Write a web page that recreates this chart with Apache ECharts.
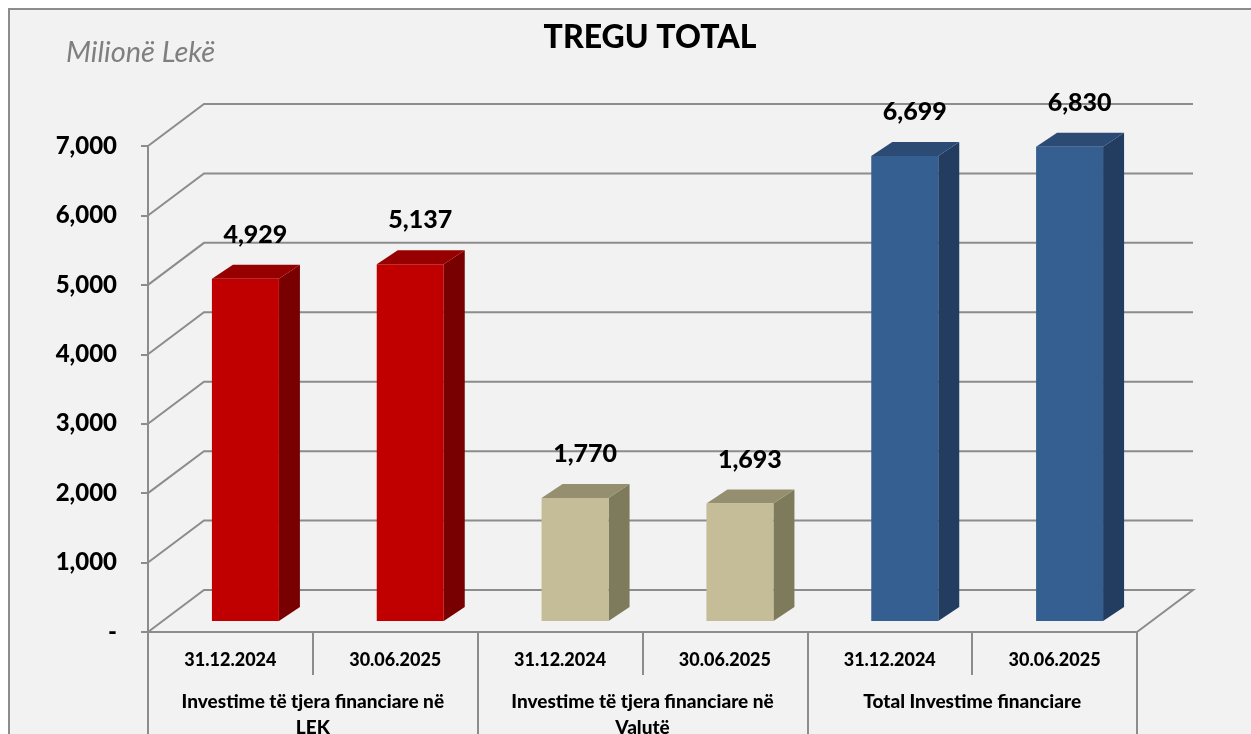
<!DOCTYPE html>
<html>
<head>
<meta charset="utf-8">
<script src="https://cdn.jsdelivr.net/npm/echarts@6/dist/echarts.min.js"></script>
<style>
  html, body { margin: 0; padding: 0; background: #fff; }
  #chart { width: 1251px; height: 734px; }
</style>
</head>
<body>
<div id="chart"></div>
<script>
const dates = ["31.12.2024", "30.06.2025", "31.12.2024", "30.06.2025", "31.12.2024", "30.06.2025"];
const groups = ["Investime të tjera financiare në\nLEK", "Investime të tjera financiare në\nValutë", "Total Investime financiare"];
const values = [4929, 5137, 1770, 1693, 6699, 6830];
const yTicks = [0, 1000, 2000, 3000, 4000, 5000, 6000, 7000];

// front / top / side colour of each group
const barColors = [
  { front: "#C00000", top: "#960000", side: "#780000" },
  { front: "#C4BD97", top: "#958F6F", side: "#7E7A5C" },
  { front: "#365F91", top: "#2B4B74", side: "#223D5F" }
];

const FONT = "Lato, 'Open Sans', sans-serif";
const WALL_DX = 56, WALL_DY = -42;
const gridColor = "#8c8c8c";

function fmt(v) {
  if (v === 0) return "-";
  return v.toLocaleString("en-US");
}

let chart = echarts.init(document.getElementById("chart"));

function renderWall(params, api) {
  let v = api.value(1);
  let p = api.coord([0, v]);
  let cs = params.coordSys;
  let xl = cs.x, xr = cs.x + cs.width, y = p[1];
  let pts = [[xl, y], [xl + WALL_DX, y + WALL_DY], [xr + WALL_DX, y + WALL_DY]];
  if (v === 0) pts.push([xr, y]);
  return {
    type: "polyline",
    shape: { points: pts },
    style: { stroke: gridColor, lineWidth: 2, fill: null }
  };
}

function renderBar(params, api) {
  let idx = api.value(0), v = api.value(1);
  let base = api.coord([idx, 0]);
  let top = api.coord([idx, v]);
  let cx = base[0] + 15, w = 67;
  let x0 = cx - w / 2, x1 = cx + w / 2;
  let yb = base[1] - 11, yt = top[1] - 11;
  let dx = 21, dy = -14;
  let c = barColors[Math.floor(idx / 2)];
  return {
    type: "group",
    children: [
      { type: "polygon", shape: { points: [[x1, yb], [x1 + dx, yb + dy], [x1 + dx, yt + dy], [x1, yt]] }, style: { fill: c.side } },
      { type: "polygon", shape: { points: [[x0, yt], [x1, yt], [x1 + dx, yt + dy], [x0 + dx, yt + dy]] }, style: { fill: c.top } },
      { type: "rect", shape: { x: x0, y: yt, width: w, height: yb - yt }, style: { fill: c.front } },
      {
        type: "text", x: cx + 10, y: yt - 44,
        style: { text: fmt(v), fill: "#000", font: "900 25px " + FONT, align: "center", verticalAlign: "middle" }
      }
    ]
  };
}

let option = {
  backgroundColor: "#fff",
  animation: false,
  graphic: [
    {
      type: "rect", z: -100,
      shape: { x: 9, y: 9, width: 1400, height: 900 },
      style: { fill: "#F2F2F2", stroke: "#8c8c8c", lineWidth: 2 }
    },
    {
      type: "text", x: 650, y: 38,
      style: { text: "TREGU TOTAL", fill: "#000", font: "900 32px " + FONT, align: "center", verticalAlign: "middle" }
    },
    {
      type: "text", left: 66, top: 38,
      style: { text: "Milionë Lekë", fill: "#7f7f7f", font: "italic 29px " + FONT }
    }
  ],
  grid: { left: 148, right: 114, top: 146, bottom: 102, containLabel: false, outerBoundsMode: "none" },
  xAxis: [
    {
      type: "category",
      position: "bottom",
      data: dates,
      axisLine: { show: true, lineStyle: { color: gridColor, width: 2 } },
      axisTick: { show: true, interval: 0, length: 43, lineStyle: { color: gridColor, width: 2 } },
      axisLabel: { interval: 0, margin: 19, color: "#000", fontFamily: FONT, fontSize: 18, fontWeight: 900 },
      splitLine: { show: false }
    },
    {
      type: "category",
      position: "bottom",
      data: groups,
      axisLine: { show: false },
      axisTick: { show: true, interval: 0, length: 110, lineStyle: { color: gridColor, width: 2 } },
      axisLabel: { interval: 0, margin: 57, lineHeight: 26, color: "#000", fontFamily: FONT, fontSize: 19, fontWeight: 900 },
      splitLine: { show: false }
    }
  ],
  yAxis: {
    type: "value",
    min: 0,
    max: 7000,
    interval: 1000,
    axisLine: { show: true, lineStyle: { color: gridColor, width: 2 } },
    axisTick: { show: true, length: 7, lineStyle: { color: gridColor, width: 2 } },
    axisLabel: {
      margin: 31, color: "#000", fontFamily: FONT, fontSize: 24, fontWeight: 900,
      formatter: fmt
    },
    splitLine: { show: false }
  },
  series: [
    {
      type: "custom",
      z: 1,
      renderItem: renderWall,
      data: yTicks.map(t => [0, t]),
      silent: true
    },
    {
      type: "custom",
      z: 5,
      renderItem: renderBar,
      data: values.map((v, i) => [i, v])
    }
  ]
};

chart.setOption(option);
</script>
</body>
</html>
